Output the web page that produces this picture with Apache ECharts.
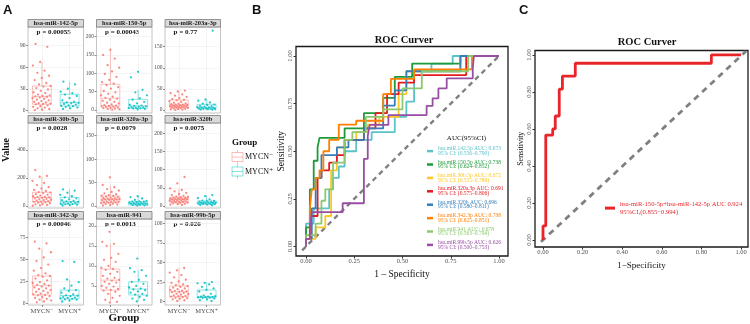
<!DOCTYPE html>
<html>
<head>
<meta charset="utf-8">
<script src="https://cdn.jsdelivr.net/npm/echarts@6/dist/echarts.min.js"></script>
<style>
  html, body { margin: 0; padding: 0; background: #fff; }
  #chart { width: 750px; height: 324px; }
</style>
</head>
<body>
<div id="chart"></div>
<script>
// ---------- panel A : boxplots ----------
const groups = ['MYCN\u207B', 'MYCN\u207A'];
const facetNames = ['hsa-miR-142-5p', 'hsa-miR-150-5p', 'hsa-miR-203a-3p',
  'hsa-miR-30b-5p', 'hsa-miR-320a-3p', 'hsa-miR-320b',
  'hsa-miR-342-3p', 'hsa-miR-941', 'hsa-miR-99b-5p'];
const pValues = ['0.00055', '0.00043', '0.77', '0.0028', '0.0079', '0.0075', '0.00046', '0.0013', '0.026'];
const yTicks = [[0, 30, 60, 90], [0, 50, 100, 150, 200], [0, 50, 100, 150],
  [0, 200, 400], [0, 50, 100, 150], [0, 50, 100, 150, 200],
  [0, 25, 50, 75], [5, 10, 15, 20], [0, 25, 50, 75, 100]];
const yLimits = [[-3.5, 115.4], [-8.2, 226], [-7, 196.7],
  [-14, 593], [-4.3, 177], [-5.5, 228],
  [-2, 95.8], [0.2, 21.7], [-4.2, 105.5]];
// [min, Q1, median, Q3, max] of the whiskers/box
const negBoxes = [[0.5, 8.6, 19, 33.9, 67], [1, 11, 32, 70, 164], [0.5, 6.4, 11.8, 23.7, 46],
  [2, 31, 62, 98, 209], [1, 7.1, 14.3, 21.4, 45], [3, 11, 18.4, 24, 48],
  [1, 9.4, 20, 31, 62], [0.8, 3.9, 6.4, 9.2, 15.6], [1, 6.4, 12.8, 20, 43]];
const posBoxes = [[2, 6.2, 10.8, 22.4, 40], [2, 4.6, 11, 29, 55], [1, 2.4, 6.4, 13.5, 25],
  [4, 14, 31, 62, 119], [1, 2.1, 5.7, 9.2, 21], [2, 5.5, 9.2, 13.7, 30],
  [2, 4.9, 8.7, 15, 27], [1.1, 2.7, 4.2, 6.0, 8.9], [1, 5.1, 6.4, 15, 25]];
const negPoints = [
  [92, 88, 67, 62, 55, 52, 48, 45, 42, 38, 36, 34, 33, 31, 29, 27, 25, 24, 22, 21, 20, 19.5, 19, 18, 17, 16, 15, 14, 13, 12, 11, 10, 9.5, 9, 8.5, 7, 6, 5, 4, 3, 2, 1, 0.5],
  [164, 150, 140, 122, 115, 105, 98, 90, 82, 76, 72, 68, 62, 58, 52, 48, 44, 40, 36, 33, 31, 28, 25, 22, 20, 18, 15, 13, 12, 11, 10, 9, 8, 7, 6, 5, 4, 3, 2, 1],
  [46, 44, 40, 37, 34, 31, 28, 26, 24, 23, 21, 19, 17, 16, 15, 14, 13, 12.5, 12, 11.5, 11, 10.5, 10, 9.5, 9, 8.5, 8, 7.5, 7, 6.5, 6, 5, 4.5, 4, 3, 2.5, 2, 1, 0.5],
  [257, 215, 209, 180, 165, 150, 135, 125, 115, 108, 100, 96, 92, 85, 80, 75, 70, 66, 63, 61, 58, 55, 52, 48, 45, 42, 38, 35, 32, 30, 27, 24, 20, 16, 12, 8, 5, 2],
  [61, 45, 40, 36, 33, 30, 27, 25, 23, 22, 21, 20, 19, 18, 17, 16, 15.5, 15, 14.5, 14, 13.5, 13, 12, 11, 10, 9.5, 9, 8, 7.5, 7, 6, 5, 4, 3, 2, 1],
  [80, 62, 48, 44, 40, 36, 33, 30, 28, 26, 25, 24, 23, 22, 21, 20, 19.5, 19, 18.5, 18, 17.5, 17, 16, 15, 14, 13, 12.5, 12, 11.5, 11, 10, 9, 8, 7, 6, 5, 4, 3],
  [70, 68, 62, 58, 52, 48, 44, 40, 37, 34, 32, 31, 30, 28, 26, 24, 23, 22, 21, 20, 19, 18, 17, 16, 15, 14, 13, 12, 11, 10, 9.5, 9, 8, 7, 6, 5, 4, 3, 2, 1],
  [18.5, 16, 15.5, 15, 13, 12, 11.5, 11, 10, 9.5, 9.2, 9, 8.5, 8, 7.5, 7, 6.8, 6.5, 6.3, 6, 5.8, 5.5, 5, 4.8, 4.5, 4.2, 4, 3.8, 3.5, 3, 2.5, 2, 1.5, 1, 0.8],
  [43, 40, 37, 34, 31, 28, 26, 24, 22, 21, 20, 19, 18, 17, 16, 15, 14, 13.5, 13, 12.5, 12, 11, 10, 9.5, 9, 8, 7.5, 7, 6.5, 6, 5, 4.5, 4, 3, 2, 1]
];
const posPoints = [
  [40, 36, 30, 26, 24, 22, 20, 17, 14, 12, 11, 10.5, 10, 9, 8, 7, 6.5, 6, 5, 4, 3, 2],
  [104, 89, 55, 48, 40, 32, 28, 22, 18, 14, 12, 11, 10, 9, 8, 7, 6, 5, 4.5, 4, 3, 2],
  [188, 25, 22, 18, 15, 13, 12, 10, 9, 8, 7, 6.5, 6, 5, 4.5, 4, 3.5, 3, 2.5, 2, 1.5, 1],
  [119, 110, 95, 80, 70, 62, 55, 48, 42, 36, 33, 30, 28, 25, 22, 19, 16, 14, 12, 10, 7, 4],
  [21, 19, 16, 13, 11, 10, 9.5, 9, 8, 7, 6.5, 6, 5.5, 5, 4.5, 4, 3.5, 3, 2.5, 2, 1.5, 1],
  [30, 27, 22, 18, 15, 14, 13, 12, 11, 10, 9.5, 9, 8.5, 8, 7, 6.5, 6, 5.5, 5, 4, 3, 2],
  [48, 47, 27, 24, 20, 17, 15, 14, 12, 10, 9, 8.5, 8, 7, 6.5, 6, 5.5, 5, 4.5, 4, 3, 2],
  [11.8, 9.4, 8.9, 8.5, 7.5, 6.5, 6, 5.5, 5, 4.6, 4.3, 4.1, 3.9, 3.6, 3.3, 3, 2.8, 2.5, 2.2, 1.8, 1.5, 1.1],
  [25, 24, 23.5, 22, 19, 17, 15, 13, 10, 8, 7, 6.5, 6.3, 6, 5.8, 5.5, 5.2, 5, 4, 3, 2, 1]
];

// ---------- panel B : ROC curves ----------
const rocNames = ['hsa.miR.142.5p', 'hsa.miR.150.5p', 'hsa.miR.30b.5p', 'hsa.miR.320a.3p',
  'hsa.miR.320b', 'hsa.miR.342.3p', 'hsa.miR.941', 'hsa.miR.99b.5p'];
const rocAuc = ['0.673', '0.738', '0.672', '0.691', '0.696', '0.738', '0.678', '0.626'];
const rocCiLow = ['0.556', '0.624', '0.555', '0.575', '0.580', '0.625', '0.563', '0.500'];
const rocCiHigh = ['0.790', '0.852', '0.789', '0.806', '0.811', '0.851', '0.794', '0.753'];
const rocColors = ['#5BC2C8', '#1F9A3A', '#FFC726', '#E41A1C', '#377EB8', '#FF7F00', '#8CC86E', '#984EA3'];
const rocCurves = [
  [[0,0],[0,0.12],[0.04,0.12],[0.04,0.2],[0.12,0.2],[0.12,0.3],[0.14,0.3],[0.14,0.36],[0.17,0.36],[0.17,0.42],[0.2,0.42],[0.2,0.5],[0.26,0.5],[0.26,0.56],[0.34,0.56],[0.34,0.6],[0.46,0.6],[0.46,0.68],[0.52,0.68],[0.52,0.76],[0.56,0.76],[0.56,0.92],[0.65,0.92],[0.65,0.96],[0.76,0.96],[0.76,1],[1,1]],
  [[0,0],[0,0.1],[0.02,0.1],[0.02,0.3],[0.04,0.3],[0.04,0.45],[0.06,0.45],[0.06,0.52],[0.07,0.52],[0.07,0.57],[0.2,0.57],[0.2,0.62],[0.3,0.62],[0.3,0.7],[0.4,0.7],[0.4,0.78],[0.46,0.78],[0.46,0.89],[0.55,0.89],[0.55,0.96],[0.8,0.96],[0.8,1],[1,1]],
  [[0,0],[0,0.04],[0.05,0.04],[0.05,0.1],[0.1,0.1],[0.1,0.16],[0.13,0.16],[0.13,0.4],[0.16,0.4],[0.16,0.52],[0.2,0.52],[0.2,0.56],[0.26,0.56],[0.26,0.6],[0.32,0.6],[0.32,0.64],[0.38,0.64],[0.38,0.68],[0.48,0.68],[0.48,0.8],[0.52,0.8],[0.52,0.92],[0.8,0.92],[0.8,1],[1,1]],
  [[0,0],[0,0.04],[0.02,0.04],[0.02,0.16],[0.06,0.16],[0.06,0.36],[0.08,0.36],[0.08,0.4],[0.12,0.4],[0.12,0.44],[0.16,0.44],[0.16,0.48],[0.2,0.48],[0.2,0.56],[0.3,0.56],[0.3,0.62],[0.36,0.62],[0.36,0.7],[0.42,0.7],[0.42,0.8],[0.48,0.8],[0.48,0.86],[0.56,0.86],[0.56,0.9],[0.83,0.9],[0.83,1],[1,1]],
  [[0,0],[0,0.04],[0.03,0.04],[0.03,0.2],[0.05,0.2],[0.05,0.36],[0.08,0.36],[0.08,0.48],[0.16,0.48],[0.16,0.52],[0.22,0.52],[0.22,0.56],[0.3,0.56],[0.3,0.62],[0.4,0.62],[0.4,0.74],[0.46,0.74],[0.46,0.82],[0.52,0.82],[0.52,0.92],[0.8,0.92],[0.8,1],[1,1]],
  [[0,0],[0,0.04],[0.02,0.04],[0.02,0.2],[0.03,0.2],[0.03,0.3],[0.05,0.3],[0.05,0.36],[0.07,0.36],[0.07,0.4],[0.09,0.4],[0.09,0.5],[0.12,0.5],[0.12,0.56],[0.17,0.56],[0.17,0.64],[0.26,0.64],[0.26,0.66],[0.4,0.66],[0.4,0.8],[0.44,0.8],[0.44,0.88],[0.56,0.88],[0.56,0.93],[0.86,0.93],[0.86,1],[1,1]],
  [[0,0],[0,0.06],[0.05,0.06],[0.05,0.12],[0.08,0.12],[0.08,0.24],[0.1,0.24],[0.1,0.3],[0.14,0.3],[0.14,0.44],[0.2,0.44],[0.2,0.56],[0.24,0.56],[0.24,0.6],[0.31,0.6],[0.31,0.68],[0.4,0.68],[0.4,0.72],[0.5,0.72],[0.5,0.83],[0.6,0.83],[0.6,0.92],[0.84,0.92],[0.84,1],[1,1]],
  [[0,0],[0,0.04],[0.02,0.04],[0.02,0.1],[0.03,0.1],[0.03,0.18],[0.19,0.18],[0.19,0.227],[0.3,0.227],[0.3,0.46],[0.32,0.46],[0.32,0.58],[0.33,0.58],[0.33,0.638],[0.427,0.638],[0.427,0.69],[0.625,0.69],[0.625,0.738],[0.656,0.738],[0.656,0.778],[0.686,0.778],[0.686,0.83],[0.729,0.83],[0.729,0.883],[0.864,0.883],[0.864,0.935],[0.87,0.935],[0.87,1],[1,1]]
];
const diagB = [[-0.02, -0.02], [1, 1]];
const ticksB = [0, 0.25, 0.5, 0.75, 1];

// ---------- panel C : combined ROC ----------
const comboName = 'hsa-miR-150-5p+hsa-miR-142-5p';
const comboAuc = '0.924';
const comboCi = ['0.855', '0.994'];
const comboCurve = [[0,0],[0,0.076],[0.014,0.076],[0.014,0.567],[0.049,0.567],[0.049,0.6],[0.062,0.6],[0.062,0.67],[0.082,0.67],[0.082,0.815],[0.098,0.815],[0.098,0.886],[0.163,0.886],[0.163,0.955],[0.85,0.955],[0.85,1],[1,1]];
const diagC = [[-0.01, -0.01], [1.025, 1.02]];
const ticksC = [0, 0.2, 0.4, 0.6, 0.8, 1];

// ---------- layout ----------
const SERIF = "'Liberation Serif', 'DejaVu Serif', serif";
const RED = '#F8766D', TEAL = '#00BFC4';
const COL_X = [28, 96.5, 165];
const PANEL_W = 55.5;
const ROW_Y = [27, 123, 219];
const PANEL_H = [86, 85, 86];
const STRIP_H = 7.5;

const chart = echarts.init(document.getElementById('chart'));

function jitter(k, spread) {
  return (((k * 0.6180339887 + 0.17) % 1) - 0.5) * 2 * spread;
}

function renderBox(params, api) {
  const x = api.value(0);
  const lo = api.coord([x, api.value(1)]);
  const q1 = api.coord([x, api.value(2)]);
  const md = api.coord([x, api.value(3)]);
  const q3 = api.coord([x, api.value(4)]);
  const hi = api.coord([x, api.value(5)]);
  const hw = api.size([0.68, 0])[0] / 2;
  const cx = md[0];
  const style = { stroke: api.visual('color'), fill: 'none', lineWidth: 0.8 };
  return {
    type: 'group',
    children: [
      { type: 'line', shape: { x1: cx, y1: hi[1], x2: cx, y2: q3[1] }, style: style },
      { type: 'line', shape: { x1: cx, y1: q1[1], x2: cx, y2: lo[1] }, style: style },
      { type: 'rect', shape: { x: cx - hw, y: q3[1], width: hw * 2, height: q1[1] - q3[1] }, style: style },
      { type: 'line', shape: { x1: cx - hw, y1: md[1], x2: cx + hw, y2: md[1] }, style: style }
    ]
  };
}

const grids = [], xAxes = [], yAxes = [], series = [], graphics = [];

facetNames.forEach((name, i) => {
  const r = Math.floor(i / 3), c = i % 3;
  // label positions: the wanted ticks plus the axis top, whose label stays empty
  const labelVals = yTicks[i].concat([yLimits[i][1]]);
  grids.push({ left: COL_X[c], top: ROW_Y[r], width: PANEL_W, height: PANEL_H[r],
    show: true, borderColor: '#b5b5b5', borderWidth: 0.8, backgroundColor: '#fff' });
  xAxes.push({ gridIndex: i, type: 'value', min: 0.5, max: 2.5,
    axisLine: { show: false, onZero: false },
    axisTick: { show: r === 2, length: 2, customValues: [1, 2], lineStyle: { color: '#444', width: 0.6 } },
    axisLabel: { show: r === 2, customValues: [1, 2], formatter: v => groups[Math.round(v) - 1] || '',
      fontFamily: SERIF, fontSize: 6.5, color: '#4d4d4d', margin: 3 },
    splitLine: { show: true, lineStyle: { color: '#ececec', width: 0.6 } } });
  yAxes.push({ gridIndex: i, type: 'value', min: yLimits[i][0], max: yLimits[i][1],
    axisLine: { show: false, onZero: false },
    axisTick: { show: true, length: 2, customValues: yTicks[i], lineStyle: { color: '#444', width: 0.6 } },
    axisLabel: { customValues: labelVals, showMinLabel: true, showMaxLabel: true, hideOverlap: false,
      formatter: v => (yTicks[i].indexOf(v) >= 0 ? String(v) : ''),
      fontFamily: SERIF, fontSize: 5.5, color: '#4d4d4d', margin: 2.5 },
    splitLine: { show: true, lineStyle: { color: '#ececec', width: 0.6 } } });

  [[negBoxes, negPoints, RED, 'rgba(248,118,109,0.55)', 1], [posBoxes, posPoints, TEAL, 'rgba(0,191,196,0.55)', 2]]
    .forEach(([boxes, pts, col, boxCol, gx]) => {
      series.push({ type: 'custom', xAxisIndex: i, yAxisIndex: i, silent: true,
        itemStyle: { color: boxCol }, renderItem: renderBox,
        encode: { x: 0, y: [1, 2, 3, 4, 5] },
        data: [[gx].concat(boxes[i])] });
      series.push({ type: 'scatter', xAxisIndex: i, yAxisIndex: i, silent: true,
        symbolSize: 2.3, itemStyle: { color: col, opacity: 0.85 },
        data: pts[i].map((v, k) => [gx + jitter(k + i * 7, 0.34), v]) });
    });

  // strip
  graphics.push({ type: 'rect', shape: { x: COL_X[c], y: ROW_Y[r] - STRIP_H, width: PANEL_W, height: STRIP_H },
    style: { fill: '#d9d9d9', stroke: '#555', lineWidth: 0.6 } });
  graphics.push({ type: 'text', x: COL_X[c] + PANEL_W / 2, y: ROW_Y[r] - STRIP_H / 2 + 0.3,
    style: { text: name, font: 'bold 6.5px ' + SERIF, fill: '#1a1a1a', textAlign: 'center', textVerticalAlign: 'middle', align: 'center', verticalAlign: 'middle' } });
  // p value
  graphics.push({ type: 'text', x: COL_X[c] + 8.5, y: ROW_Y[r] + 5.5,
    style: { text: 'p = ' + pValues[i], font: 'bold 7px ' + SERIF, fill: '#111', textVerticalAlign: 'middle', verticalAlign: 'middle' } });
});

// panel B grid
const gB = facetNames.length;
grids.push({ left: 296, top: 46.5, width: 212, height: 209.5, show: true, borderColor: '#1a1a1a', borderWidth: 1.3 });
xAxes.push({ gridIndex: gB, type: 'value', min: -0.0518, max: 1.0466,
  name: '1 \u2013 Specificity', nameLocation: 'middle', nameGap: 6,
  nameTextStyle: { fontFamily: SERIF, fontSize: 9.5, color: '#111' },
  axisLine: { show: false, onZero: false }, splitLine: { show: false },
  axisTick: { length: 2.5, customValues: ticksB, lineStyle: { color: '#333' } },
  axisLabel: { customValues: ticksB, formatter: v => v.toFixed(2), fontFamily: SERIF, fontSize: 6.5, color: '#4d4d4d', margin: 2 } });
yAxes.push({ gridIndex: gB, type: 'value', min: -0.05, max: 1.0499,
  name: 'Sensitivity', nameLocation: 'middle', nameGap: 8,
  nameTextStyle: { fontFamily: SERIF, fontSize: 9.5, color: '#111' },
  axisLine: { show: false, onZero: false }, splitLine: { show: false },
  axisTick: { length: 2.5, customValues: ticksB, lineStyle: { color: '#333' } },
  axisLabel: { customValues: ticksB, formatter: v => v.toFixed(2), rotate: 90, fontFamily: SERIF, fontSize: 6.5, color: '#4d4d4d', margin: 2 } });
series.push({ type: 'line', xAxisIndex: gB, yAxisIndex: gB, silent: true, showSymbol: false,
  lineStyle: { color: '#808080', width: 2.4, type: [5, 4] }, data: diagB });
rocCurves.forEach((curve, k) => {
  series.push({ name: rocNames[k], type: 'line', xAxisIndex: gB, yAxisIndex: gB, silent: true,
    showSymbol: false, color: rocColors[k], lineStyle: { color: rocColors[k], width: 1.8 }, data: curve });
});

// panel C grid
const gC = gB + 1;
grids.push({ left: 535, top: 50.5, width: 213, height: 196.5, show: true, borderColor: '#1a1a1a', borderWidth: 1.3 });
xAxes.push({ gridIndex: gC, type: 'value', min: -0.0404, max: 1.035,
  name: '1\u2212Specificity', nameLocation: 'middle', nameGap: 7,
  nameTextStyle: { fontFamily: SERIF, fontSize: 9, color: '#111' },
  axisLine: { show: false, onZero: false }, splitLine: { show: false },
  axisTick: { length: 2.5, customValues: ticksC, lineStyle: { color: '#333' } },
  axisLabel: { customValues: ticksC, formatter: v => v.toFixed(2), fontFamily: SERIF, fontSize: 6.5, color: '#4d4d4d', margin: 2 } });
yAxes.push({ gridIndex: gC, type: 'value', min: -0.038, max: 1.024,
  name: 'Sensitivity', nameLocation: 'middle', nameGap: 9,
  nameTextStyle: { fontFamily: SERIF, fontSize: 8, color: '#111' },
  axisLine: { show: false, onZero: false }, splitLine: { show: false },
  axisTick: { length: 2.5, customValues: ticksC, lineStyle: { color: '#333' } },
  axisLabel: { customValues: ticksC, formatter: v => v.toFixed(2), rotate: 90, fontFamily: SERIF, fontSize: 6.5, color: '#4d4d4d', margin: 2 } });
series.push({ type: 'line', xAxisIndex: gC, yAxisIndex: gC, silent: true, showSymbol: false,
  lineStyle: { color: '#808080', width: 2.8, type: [6, 5] }, data: diagC });
series.push({ name: comboName, type: 'line', xAxisIndex: gC, yAxisIndex: gC, silent: true, showSymbol: false,
  color: '#E8262A', lineStyle: { color: '#E8262A', width: 2.8 }, data: comboCurve });

// texts
function txt(x, y, text, font, extra) {
  return Object.assign({ type: 'text', x: x, y: y, style: Object.assign({ text: text, font: font, fill: '#111',
    textVerticalAlign: 'middle', verticalAlign: 'middle' }, extra || {}) });
}
graphics.push(txt(3, 10, 'A', 'bold 13px "Liberation Sans", Arial, sans-serif'));
graphics.push(txt(252, 10, 'B', 'bold 13px "Liberation Sans", Arial, sans-serif'));
graphics.push(txt(519, 10, 'C', 'bold 13px "Liberation Sans", Arial, sans-serif'));
graphics.push(txt(404, 40, 'ROC Curver', 'bold 10.5px ' + SERIF, { textAlign: 'center', align: 'center' }));
graphics.push(txt(647, 42, 'ROC Curver', 'bold 10.5px ' + SERIF, { textAlign: 'center', align: 'center' }));
graphics.push(txt(466.5, 138, 'AUC(95%CI)', '7px ' + SERIF, { textAlign: 'center', align: 'center' }));
graphics.push(txt(124, 318, 'Group', 'bold 11px ' + SERIF, { textAlign: 'center', align: 'center' }));
graphics.push(Object.assign(txt(6, 150, 'Value', 'bold 10px ' + SERIF, { textAlign: 'center', align: 'center' }), { rotation: Math.PI / 2, z: 0 }));
// group legend of panel A
graphics.push(txt(232, 143, 'Group', 'bold 9px ' + SERIF));
[[157, 'rgba(248,118,109,0.6)', groups[0]], [171.5, 'rgba(0,191,196,0.6)', groups[1]]].forEach(([cy, col, label]) => {
  graphics.push({ type: 'line', shape: { x1: 237.5, y1: cy - 7, x2: 237.5, y2: cy + 7 }, style: { stroke: col, lineWidth: 0.8 } });
  graphics.push({ type: 'rect', shape: { x: 232, y: cy - 4.5, width: 11, height: 9 }, style: { stroke: col, fill: '#fff', lineWidth: 0.8 } });
  graphics.push({ type: 'line', shape: { x1: 232, y1: cy, x2: 243, y2: cy }, style: { stroke: col, lineWidth: 0.8 } });
  graphics.push(txt(245, cy, label, '8px ' + SERIF));
});

const option = {
  animation: false,
  backgroundColor: '#fff',
  grid: grids,
  xAxis: xAxes,
  yAxis: yAxes,
  series: series,
  legend: [
    { orient: 'vertical', left: 427, top: 145.8, padding: 0, itemWidth: 6, itemHeight: 2.5, itemGap: 2.8, icon: 'rect',
      selectedMode: false,
      data: rocNames.map((n, k) => ({ name: n, textStyle: { color: rocColors[k] } })),
      formatter: n => { const k = rocNames.indexOf(n); return n + ' AUC: ' + rocAuc[k] + '\n95% CI: (' + rocCiLow[k] + '\u2013' + rocCiHigh[k] + ')'; },
      textStyle: { fontFamily: SERIF, fontSize: 5.5, lineHeight: 4.6 } },
    { orient: 'vertical', left: 605, top: 200.5, padding: 0, itemWidth: 10, itemHeight: 3, icon: 'rect', selectedMode: false,
      data: [{ name: comboName, textStyle: { color: '#E8262A' } }],
      formatter: n => n + ' AUC ' + comboAuc + '\n95%CI,(' + comboCi[0] + '\u2212' + comboCi[1] + ')',
      textStyle: { fontFamily: SERIF, fontSize: 6.6, lineHeight: 7.6 } }
  ],
  graphic: { elements: graphics }
};
chart.setOption(option);
</script>
</body>
</html>
